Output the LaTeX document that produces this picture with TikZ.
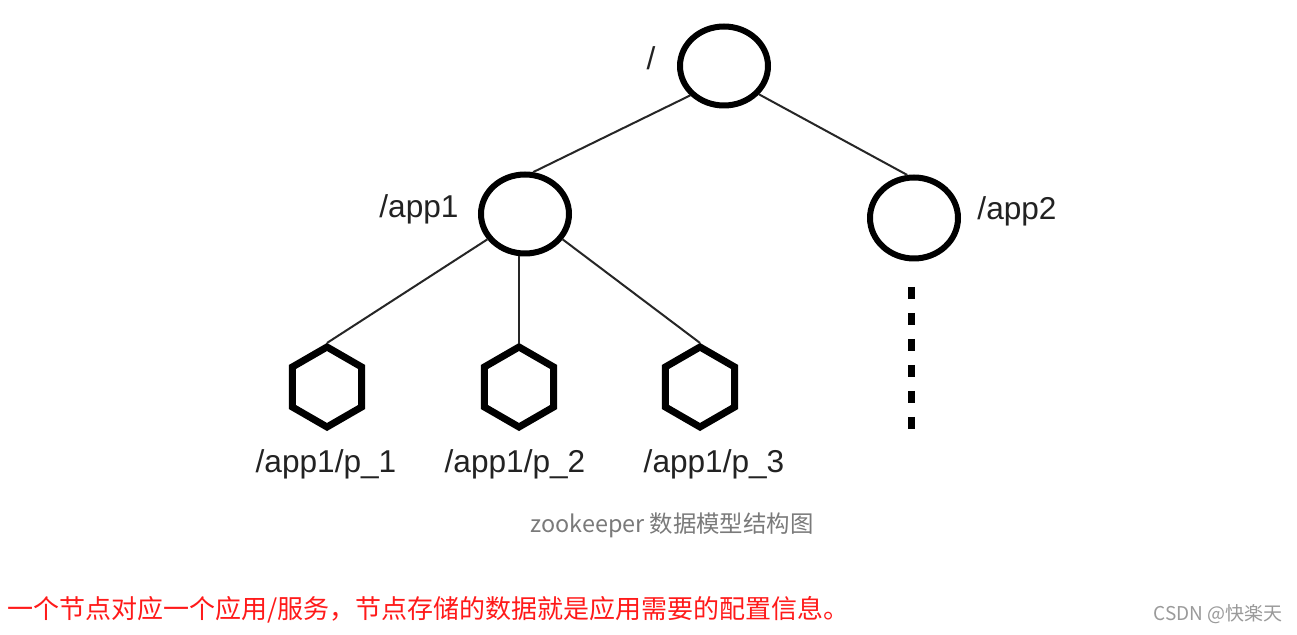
\documentclass[tikz,border=0pt]{standalone}
\usepackage{fontspec}
\setmainfont{Liberation Sans}
\newfontfamily\cjk{Noto Sans CJK SC}
\usetikzlibrary{shapes.geometric}
\definecolor{labelgray}{HTML}{222222}
\definecolor{capgray}{HTML}{7A7A7A}
\definecolor{markgray}{HTML}{9A9A9A}
\definecolor{notered}{HTML}{FF1A1A}
\tikzset{
  znode/.style={ellipse, draw=black, line width=3pt, fill=white,
    minimum width=44pt, minimum height=39.5pt, inner sep=0pt},
  leaf/.style={regular polygon, regular polygon sides=6, shape border rotate=30,
    draw=black, line width=3.5pt, fill=white, minimum size=40pt, inner sep=0pt},
  edge/.style={draw=black!85, line width=1pt},
  lbl/.style={text=labelgray, font=\fontsize{15.8pt}{18pt}\selectfont, inner sep=0pt},
  dots/.style={draw=black, line width=3.5pt, dash pattern=on 6pt off 7pt},
}
\begin{document}
\begin{tikzpicture}[x=0.5pt,y=-0.5pt]
\useasboundingbox[fill=white] (0,0) rectangle (1297,635);
% nodes
\node[znode] (root) at (724,66) {};
\node[znode] (app1) at (525,214) {};
\node[znode, minimum height=40.5pt] (app2) at (914,218) {};
\node[leaf] (p1) at (327,387) {};
\node[leaf] (p2) at (519,387) {};
\node[leaf] (p3) at (700,387) {};
% labels
\node[lbl] (lroot) at (651,58) {/};
\node[lbl] (lapp1) at (419,209) {/app1};
\node[lbl] (lapp2) at (1017,211) {/app2};
\node[lbl] (lp1) at (326,464) {/app1/p\_1};
\node[lbl] (lp2) at (515,464) {/app1/p\_2};
\node[lbl] (lp3) at (714,464) {/app1/p\_3};
% edges
\draw[edge] (root.221) -- (app1.79);
\draw[edge] (root.321) -- (app2.99);
\draw[edge] (app1.214) -- (p1.north);
\draw[edge] (p2.north |- app1.south) -- (p2.north);
\draw[edge] (app1.326) -- (p3.north);
% continuation
\coordinate (d1) at (911,287);
\coordinate (d2) at (911,430);
\draw[dots] (d1) -- (d2);
% captions
\node[text=capgray, font=\cjk\fontsize{11.7pt}{13pt}\selectfont] (cap) at (672,525) {zookeeper 数据模型结构图};
\node[text=notered, anchor=west, inner sep=0pt, font=\cjk\fontsize{13pt}{15pt}\selectfont] (note) at (7,610) {一个节点对应一个应用/服务，节点存储的数据就是应用需要的配置信息。};
\node[text=markgray, anchor=east, inner sep=0pt, font=\cjk\fontsize{9.5pt}{11pt}\selectfont] (mark) at (1283,614) {CSDN @快楽天};
\end{tikzpicture}
\end{document}
